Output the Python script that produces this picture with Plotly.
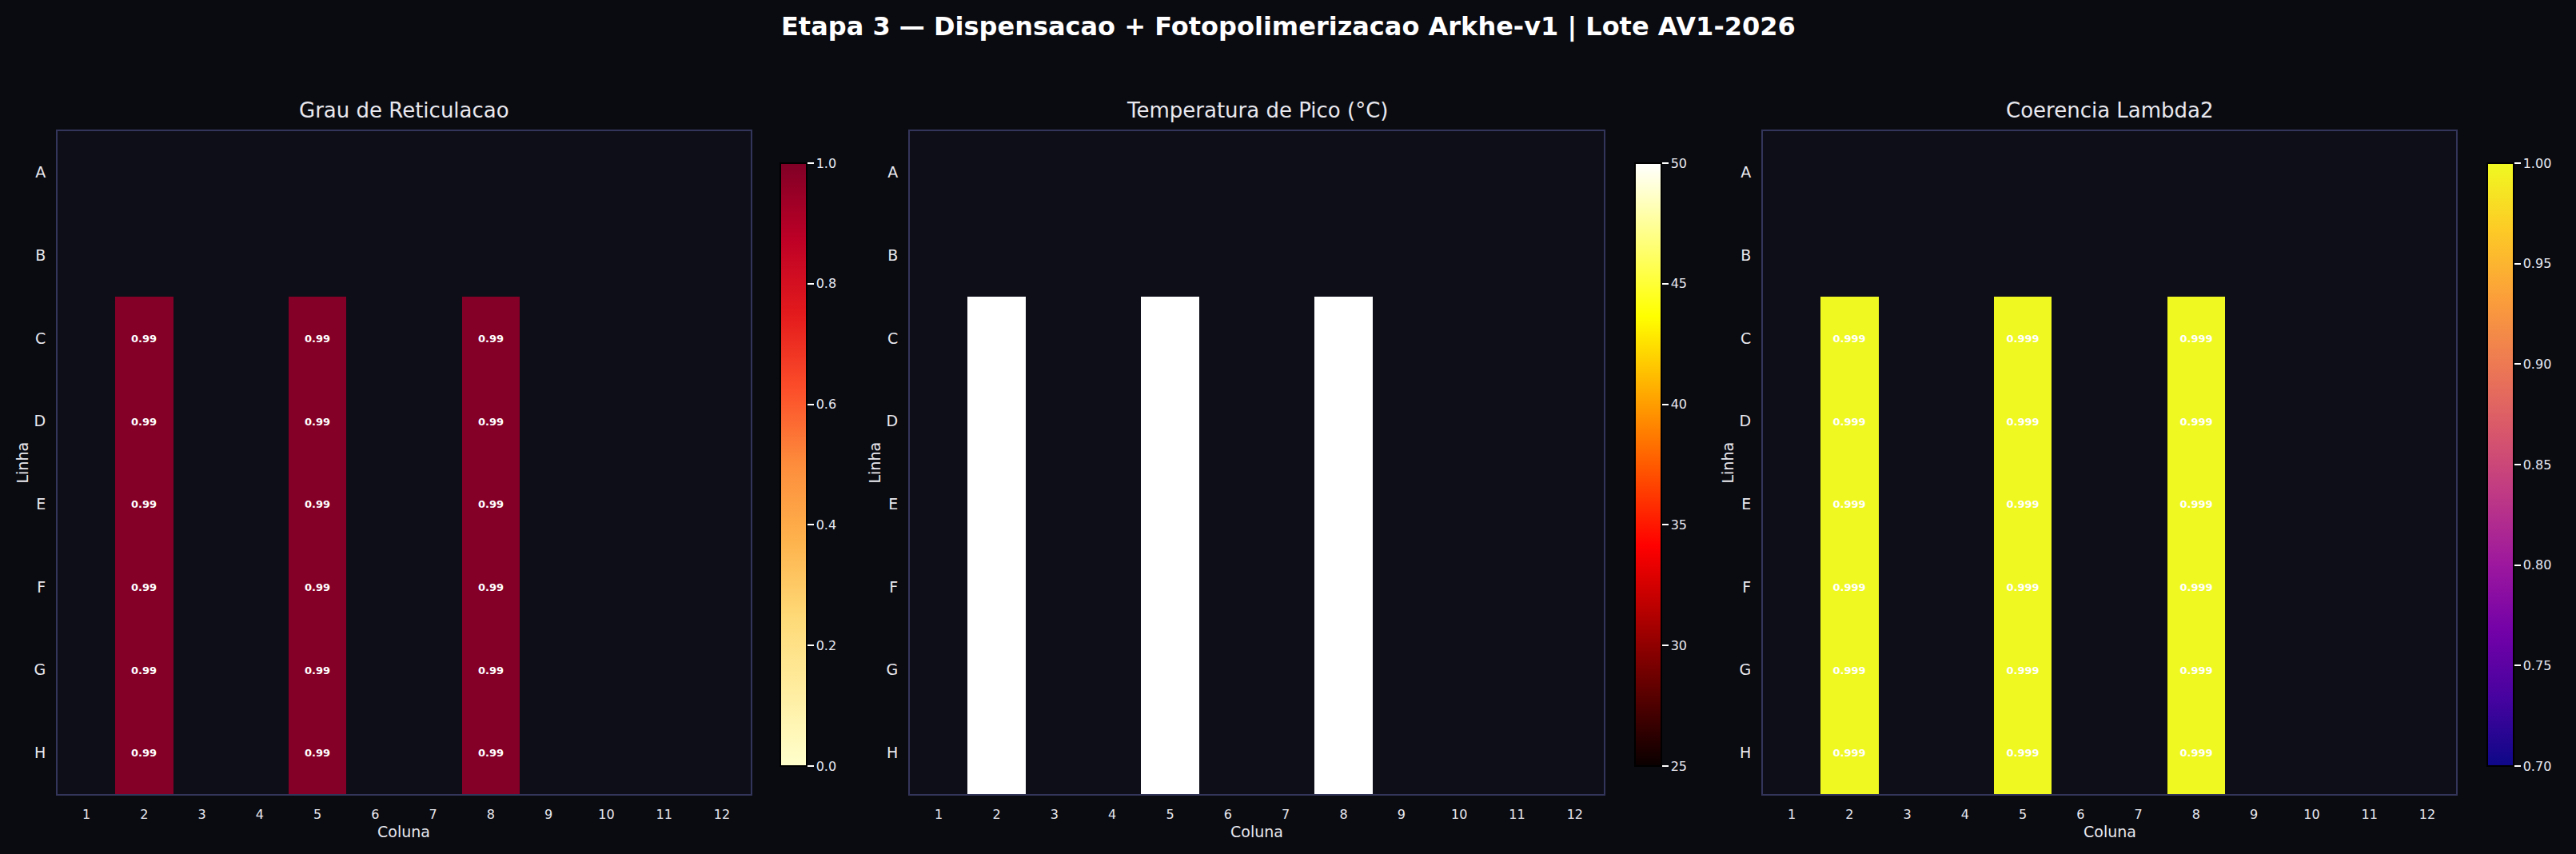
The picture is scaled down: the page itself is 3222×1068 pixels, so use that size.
import plotly.graph_objects as go

# ---------------- data ----------------
rows = ["A", "B", "C", "D", "E", "F", "G", "H"]
cols = [1, 2, 3, 4, 5, 6, 7, 8, 9, 10, 11, 12]

well_rows = ["C", "D", "E", "F", "G", "H"]
well_cols = [2, 5, 8]

# values per dispensed column (rows C..H)
grau_reticulacao = {
    2: [0.99, 0.99, 0.99, 0.99, 0.99, 0.99],
    5: [0.99, 0.99, 0.99, 0.99, 0.99, 0.99],
    8: [0.99, 0.99, 0.99, 0.99, 0.99, 0.99],
}
temperatura_pico = {
    2: [50.0, 50.0, 50.0, 50.0, 50.0, 50.0],
    5: [50.0, 50.0, 50.0, 50.0, 50.0, 50.0],
    8: [50.0, 50.0, 50.0, 50.0, 50.0, 50.0],
}
coerencia_lambda2 = {
    2: [0.999, 0.999, 0.999, 0.999, 0.999, 0.999],
    5: [0.999, 0.999, 0.999, 0.999, 0.999, 0.999],
    8: [0.999, 0.999, 0.999, 0.999, 0.999, 0.999],
}

titles = ["Grau de Reticulacao", "Temperatura de Pico (°C)", "Coerencia Lambda2"]
main_title = "Etapa 3 — Dispensacao + Fotopolimerizacao Arkhe-v1 | Lote AV1-2026"

cb_ticks = [
    [0.0, 0.2, 0.4, 0.6, 0.8, 1.0],
    [25, 30, 35, 40, 45, 50],
    [0.70, 0.75, 0.80, 0.85, 0.90, 0.95, 1.00],
]
cb_ticktext = [
    ["0.0", "0.2", "0.4", "0.6", "0.8", "1.0"],
    ["25", "30", "35", "40", "45", "50"],
    ["0.70", "0.75", "0.80", "0.85", "0.90", "0.95", "1.00"],
]
z_ranges = [(0.0, 1.0), (25, 50), (0.70, 1.00)]

# ---------------- styles ----------------
W, H = 3222, 1068
FONT = "DejaVu Sans"
PAPER = "#0a0b11"
PLOT = "#0d0e18"
FRAME = "#34355a"
TXT = "#e8e8ee"

ylorrd = [[0.0, "#ffffcc"], [0.125, "#ffeda0"], [0.25, "#fed976"], [0.375, "#feb24c"],
          [0.5, "#fd8d3c"], [0.625, "#fc4e2a"], [0.75, "#e31a1c"], [0.875, "#bd0026"],
          [1.0, "#800026"]]
hot = [[0.0, "rgb(10,0,0)"], [0.365, "rgb(255,0,0)"], [0.746, "rgb(255,255,0)"],
       [1.0, "rgb(255,255,255)"]]
plasma = [[0.0, "#0d0887"], [0.111, "#46039f"], [0.222, "#7201a8"], [0.333, "#9c179e"],
          [0.444, "#bd3786"], [0.555, "#d8576b"], [0.666, "#ed7953"], [0.777, "#fb9f3a"],
          [0.888, "#fdca26"], [1.0, "#f0f921"]]
scales = [ylorrd, hot, plasma]

plot_px = [(72, 939), (1138, 2006), (2205, 3072)]
cbar_px = [976, 2045, 3111]
plot_top, plot_bot = 164, 993
cb_top, cb_bot = 204, 958
text_fmt = ["{:.2f}", None, "{:.3f}"]


def build(data, fmt):
    z = [[None for _ in cols] for _ in rows]
    t = [["" for _ in cols] for _ in rows]
    for c, vals in data.items():
        for r, v in zip(well_rows, vals):
            ri, ci = rows.index(r), cols.index(c)
            z[ri][ci] = v
            if fmt:
                t[ri][ci] = fmt.format(v)
    return z, t


fig = go.Figure()
datasets = [grau_reticulacao, temperatura_pico, coerencia_lambda2]
annotations = []

for i, data in enumerate(datasets):
    z, t = build(data, text_fmt[i])
    sfx = "" if i == 0 else str(i + 1)
    x0, x1 = plot_px[i]
    fig.add_trace(go.Heatmap(
        x=cols, y=rows, z=z, text=t,
        texttemplate="<b>%{text}</b>",
        textfont=dict(family=FONT, size=13, color="white"),
        colorscale=scales[i], zmin=z_ranges[i][0], zmax=z_ranges[i][1],
        xaxis="x" + sfx, yaxis="y" + sfx, hoverongaps=False,
        colorbar=dict(
            x=cbar_px[i] / W, xanchor="left", xpad=0,
            y=1 - (cb_top + cb_bot) / 2 / H, yanchor="middle", ypad=0,
            len=cb_bot - cb_top, lenmode="pixels",
            thickness=33, outlinecolor="black", outlinewidth=2,
            tickvals=cb_ticks[i], ticktext=cb_ticktext[i],
            ticks="outside", ticklen=8, tickwidth=2, tickcolor="white",
            tickfont=dict(family=FONT, size=16, color=TXT),
        ),
    ))
    fig.update_layout(**{
        "xaxis" + sfx: dict(
            domain=[x0 / W, x1 / W], anchor="y" + sfx,
            range=[0.5, 12.5], tickvals=cols, ticktext=[str(c) for c in cols],
            showgrid=False, zeroline=False, ticks="", ticklabelstandoff=10,
            showline=True, mirror=True, linecolor=FRAME, linewidth=2,
            tickfont=dict(family=FONT, size=16, color=TXT),
        ),
        "yaxis" + sfx: dict(
            domain=[1 - plot_bot / H, 1 - plot_top / H], anchor="x" + sfx,
            type="category", categoryorder="array", categoryarray=rows,
            range=[7.5, -0.5], showgrid=False, zeroline=False, ticks="",
            ticklabelstandoff=9,
            showline=True, mirror=True, linecolor=FRAME, linewidth=2,
            tickfont=dict(family=FONT, size=19, color=TXT),
        ),
    })
    # subplot title
    annotations.append(dict(text=titles[i], x=(x0 + x1) / 2 / W, y=1 - 138 / H,
                            xref="paper", yref="paper", showarrow=False,
                            xanchor="center", yanchor="middle",
                            font=dict(family=FONT, size=26, color=TXT)))
    # axis labels
    annotations.append(dict(text="Coluna", x=(x0 + x1) / 2 / W, y=1 - 1040 / H,
                            xref="paper", yref="paper", showarrow=False,
                            xanchor="center", yanchor="middle",
                            font=dict(family=FONT, size=19, color=TXT)))
    annotations.append(dict(text="Linha", x=(x0 - 45) / W, y=1 - (plot_top + plot_bot) / 2 / H,
                            xref="paper", yref="paper", showarrow=False, textangle=-90,
                            xanchor="center", yanchor="middle",
                            font=dict(family=FONT, size=19, color=TXT)))

annotations.append(dict(text="<b>" + main_title + "</b>", x=0.5, y=1 - 33 / H,
                        xref="paper", yref="paper", showarrow=False,
                        xanchor="center", yanchor="middle",
                        font=dict(family=FONT, size=32, color="white")))

fig.update_layout(
    width=W, height=H, margin=dict(l=0, r=0, t=0, b=0),
    paper_bgcolor=PAPER, plot_bgcolor=PLOT,
    annotations=annotations, showlegend=False,
    font=dict(family=FONT, color=TXT),
)

fig.write_html(
    "out.html",
    config={"displayModeBar": False},
    post_script="document.body.style.margin='0';document.body.style.background='" + PAPER + "';",
)
